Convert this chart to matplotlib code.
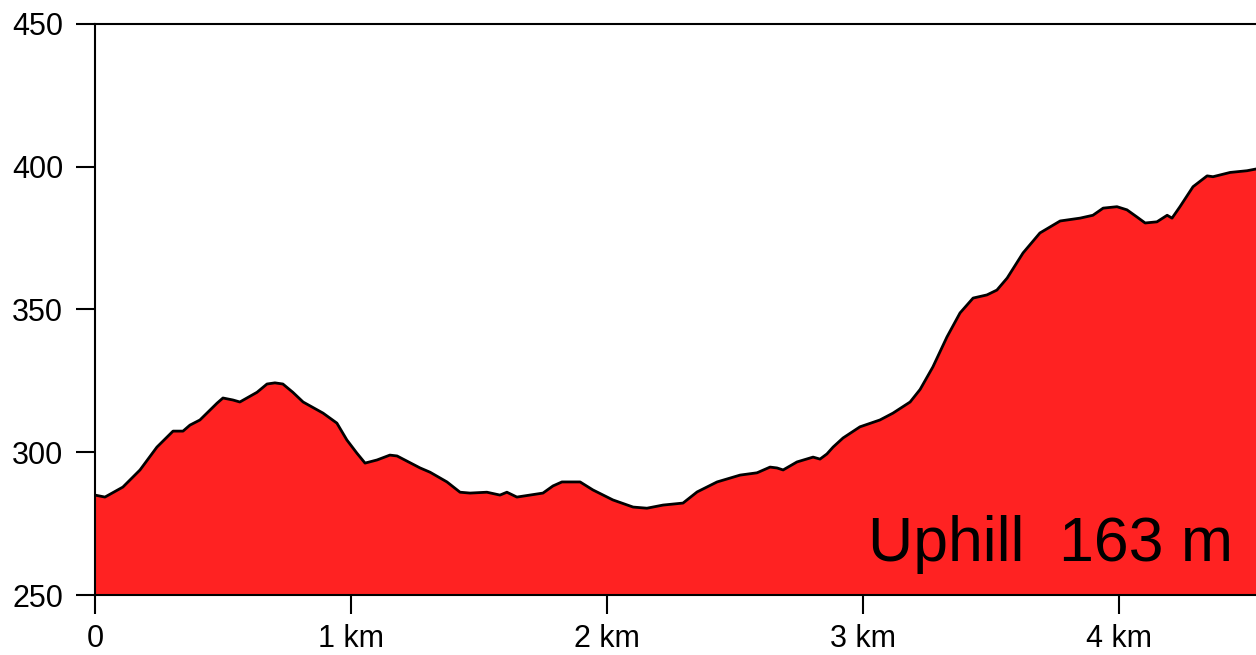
import matplotlib
matplotlib.use("Agg")
import matplotlib.pyplot as plt

dist_km = [0.000, 0.039, 0.109, 0.176, 0.242, 0.305, 0.344, 0.371, 0.410, 0.477,
           0.500, 0.539, 0.566, 0.633, 0.672, 0.703, 0.734, 0.773, 0.813, 0.891,
           0.945, 0.984, 1.023, 1.055, 1.102, 1.152, 1.180, 1.270, 1.309, 1.375,
           1.426, 1.465, 1.531, 1.582, 1.609, 1.648, 1.750, 1.789, 1.824, 1.895,
           1.945, 2.023, 2.102, 2.156, 2.219, 2.297, 2.352, 2.430, 2.520, 2.586,
           2.637, 2.664, 2.688, 2.742, 2.805, 2.832, 2.859, 2.883, 2.922, 2.988,
           3.066, 3.117, 3.184, 3.223, 3.273, 3.328, 3.379, 3.430, 3.484, 3.523,
           3.563, 3.625, 3.691, 3.770, 3.848, 3.898, 3.938, 3.992, 4.031, 4.070,
           4.102, 4.148, 4.188, 4.207, 4.238, 4.289, 4.344, 4.367, 4.434, 4.500,
           4.535]
altitud = [285.0, 284.3, 287.8, 293.8, 301.8, 307.4, 307.4, 309.5, 311.3, 317.2,
           319.0, 318.3, 317.6, 321.0, 323.9, 324.3, 323.9, 321.0, 317.6, 313.7,
           310.2, 304.3, 299.7, 296.2, 297.3, 299.0, 298.7, 294.5, 293.0, 289.6,
           286.0, 285.7, 286.0, 285.0, 286.0, 284.3, 285.7, 288.2, 289.6, 289.6,
           286.8, 283.3, 280.8, 280.4, 281.5, 282.2, 286.1, 289.6, 292.0, 292.8,
           294.8, 294.5, 293.8, 296.6, 298.3, 297.6, 299.4, 301.8, 305.0, 308.9,
           311.3, 313.7, 317.6, 322.0, 329.9, 340.4, 348.8, 354.0, 355.1, 356.8,
           361.0, 369.8, 376.8, 381.0, 382.0, 383.0, 385.5, 386.0, 384.9, 382.4,
           380.3, 380.7, 383.0, 382.0, 386.0, 393.0, 396.8, 396.5, 398.0, 398.6,
           399.2]

x_ticks = [0, 1, 2, 3, 4]
x_labels = ['0', '1 km', '2 km', '3 km', '4 km']
y_ticks = [250, 300, 350, 400, 450]
desnivel = 163

plt.rcParams['font.family'] = ['Liberation Sans', 'DejaVu Sans']

fig = plt.figure(figsize=(12.56, 6.55), dpi=100)
ax = fig.add_axes([0.0756, 0.0916, 0.9244, 0.8718])

ax.fill_between(dist_km, altitud, 250, color='#ff2222', lw=0)
ax.plot(dist_km, altitud, color='black', lw=2, solid_joinstyle='round')

ax.set_xlim(0, dist_km[-1])
ax.set_ylim(250, 450)
ax.set_xticks(x_ticks)
ax.set_xticklabels(x_labels)
ax.set_yticks(y_ticks)
ax.tick_params(axis='both', direction='out', length=14, width=1.5,
               labelsize=22)
ax.tick_params(axis='x', pad=7)
ax.tick_params(axis='y', pad=9)

for s in ['left', 'top', 'bottom']:
    ax.spines[s].set_linewidth(1.5)
ax.spines['right'].set_visible(False)

ax.text(0.98, 0.06, f'Uphill  {desnivel} m', transform=ax.transAxes,
        ha='right', va='baseline', fontsize=45)

fig.savefig('out.png', dpi=100)
